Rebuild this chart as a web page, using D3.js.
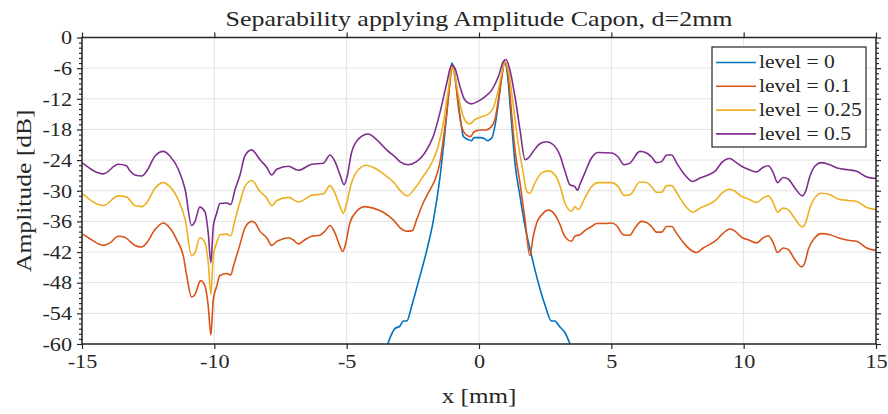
<!DOCTYPE html>
<html>
<head>
  <meta charset="utf-8">
  <title>Separability</title>
  <style>
   html, body { margin: 0; padding: 0; background: #fff; }
   text { font-family: "Liberation Serif", "Times New Roman", serif; fill: #262626; }
   .grid line { stroke: #e2e2e2; stroke-width: 1px; }
   .series { fill: none; stroke-width: 1.6px; stroke-linejoin: round; }
  </style>
</head>
<body>
<div id="chart"></div>
<script src="https://d3js.org/d3.v7.min.js"></script>
<script>
// x ticks and y ticks
var xTicks = [-15, -10, -5, 0, 5, 10, 15];
var yTicks = [0, -6, -12, -18, -24, -30, -36, -42, -48, -54, -60];
var legendLabels = ["level = 0", "level = 0.1", "level = 0.25", "level = 0.5"];
var colors = ["#0072BD", "#D95319", "#EDB120", "#7E2F8E"];

// level = 0
var lvl0X = [-3.45,-3.18,-2.99,-2.86,-2.73,-2.54,-2.29,-1.98,-1.73,-1.48,-1.29,-1.12,-1.03,-0.95,-0.81,-0.68,-0.59,-0.40,-0.28,-0.19,0.04,0.22,0.30,0.48,0.60,0.73,0.86,0.97,1.07,1.20,1.36,1.55,1.74,1.99,2.24,2.49,2.74,2.87,3.03,3.25,3.44];
var lvl0Y = [-60,-57.0,-56.5,-55.5,-55.5,-52.5,-47.8,-41.8,-36.0,-27.6,-18.7,-9.6,-5.0,-6.0,-11.6,-16.8,-19.4,-20.0,-20.2,-19.6,-19.6,-19.8,-20.2,-19.7,-17.4,-12.9,-7.7,-4.7,-7.0,-14.8,-24.6,-31.1,-37.0,-42.8,-48.0,-52.3,-55.5,-55.5,-56.5,-57.8,-60];

// level = 0.1
var lvl1X = [-14.97,-14.70,-14.19,-13.94,-13.63,-13.38,-13.19,-13.0,-12.74,-12.56,-12.24,-11.93,-11.68,-11.42,-11.17,-11.04,-10.86,-10.73,-10.52,-10.35,-10.23,-10.13,-10.04,-9.91,-9.79,-9.53,-9.38,-9.28,-9.03,-8.84,-8.59,-8.46,-8.28,-8.02,-7.83,-7.64,-7.39,-7.20,-7.02,-6.83,-6.58,-6.32,-6.01,-5.82,-5.63,-5.44,-5.25,-5.15,-5.03,-4.88,-4.62,-4.31,-4.0,-3.62,-3.24,-2.99,-2.73,-2.52,-2.36,-2.11,-1.85,-1.66,-1.48,-1.35,-1.22,-1.10,-1.01,-0.91,-0.78,-0.66,-0.47,-0.32,-0.19,0.04,0.26,0.42,0.60,0.73,0.86,0.98,1.11,1.23,1.36,1.55,1.74,1.92,2.05,2.18,2.37,2.62,2.87,3.06,3.18,3.31,3.50,3.62,3.81,4.0,4.25,4.44,4.76,5.01,5.20,5.45,5.70,5.89,6.14,6.33,6.52,6.71,6.90,7.09,7.28,7.46,7.78,8.03,8.22,8.47,8.72,8.98,9.17,9.48,9.67,9.92,10.17,10.49,10.74,10.93,11.12,11.28,11.49,11.68,11.94,12.19,12.31,12.44,12.69,12.94,13.26,13.57,13.95,14.27,14.65,15.0];
var lvl1Y = [-38.5,-39.4,-40.7,-40.2,-38.9,-39.1,-39.9,-40.7,-41.0,-40.2,-37.6,-36.3,-37.3,-39.6,-42.8,-46.7,-50.8,-50.3,-47.6,-48.7,-52.6,-58.2,-51.3,-48.7,-46.6,-46.2,-46.5,-44.8,-40.5,-37.2,-36.0,-36.3,-37.9,-39.2,-40.7,-39.9,-39.4,-39.2,-39.6,-40.4,-39.6,-38.9,-38.7,-37.9,-36.8,-38.3,-40.9,-41.9,-40.2,-36.3,-34.0,-33.1,-33.4,-34.2,-35.7,-37.2,-37.9,-37.8,-35.7,-32.4,-29.8,-27.8,-24.6,-20.0,-14.8,-9.0,-5.7,-7.7,-13.5,-17.4,-19.1,-19.4,-18.5,-18.1,-18.1,-17.7,-16.1,-12.2,-7.7,-4.7,-7.7,-14.8,-22.0,-28.5,-35.7,-42.7,-38.9,-36.3,-34.7,-33.8,-34.7,-36.6,-38.3,-39.4,-39.9,-38.9,-38.6,-37.8,-37.0,-36.4,-36.4,-36.3,-36.8,-38.6,-38.7,-37.3,-36.0,-36.2,-37.0,-38.1,-38.1,-37.0,-37.0,-38.3,-40.5,-41.7,-42.1,-41.2,-40.5,-39.6,-38.6,-37.5,-37.9,-39.1,-39.6,-40.2,-39.2,-38.8,-40.2,-42.1,-41.2,-41.5,-43.5,-44.9,-44.1,-41.5,-39.2,-38.4,-38.6,-39.2,-39.7,-39.9,-41.2,-41.7];

// level = 0.25
var lvl2X = [-14.97,-14.19,-13.63,-13.32,-13.0,-12.74,-12.56,-12.24,-11.93,-11.68,-11.36,-11.1,-10.86,-10.73,-10.55,-10.35,-10.23,-10.13,-10.04,-9.91,-9.79,-9.53,-9.38,-9.22,-9.03,-8.84,-8.59,-8.28,-8.02,-7.83,-7.64,-7.20,-6.83,-6.32,-5.88,-5.63,-5.44,-5.25,-5.13,-5.0,-4.82,-4.56,-4.24,-3.93,-3.56,-3.18,-2.99,-2.71,-2.42,-2.11,-1.79,-1.54,-1.35,-1.16,-1.01,-0.88,-0.72,-0.54,-0.35,-0.16,0.10,0.32,0.54,0.70,0.86,0.98,1.13,1.30,1.48,1.67,1.80,1.92,2.11,2.37,2.62,2.87,3.06,3.25,3.50,3.62,3.75,4.0,4.25,4.50,5.01,5.26,5.48,5.70,6.08,6.33,6.52,6.71,6.90,7.09,7.28,7.46,7.78,8.09,8.35,8.66,8.95,9.17,9.48,9.67,9.92,10.17,10.49,10.74,10.93,11.12,11.28,11.49,11.68,11.94,12.22,12.34,12.50,12.69,12.94,13.26,13.57,13.95,14.27,14.65,15.0];
var lvl2Y = [-30.6,-32.9,-31.0,-31.2,-32.9,-33.1,-32.4,-29.5,-28.4,-29.2,-31.8,-35.7,-42.7,-42.1,-39.2,-40.2,-44.1,-50.3,-42.8,-40.2,-38.6,-38.5,-38.8,-35.7,-32.2,-29.1,-28.0,-30.1,-31.4,-32.9,-31.9,-31.3,-32.2,-30.9,-30.6,-29.0,-30.5,-33.1,-34.4,-32.4,-28.5,-25.9,-25.0,-25.6,-26.9,-28.6,-29.9,-31.0,-29.5,-27.2,-24.6,-21.3,-16.8,-10.3,-5.6,-8.3,-12.9,-16.1,-16.9,-16.1,-15.5,-15.1,-13.8,-10.9,-7.0,-4.7,-7.0,-13.5,-20.7,-26.5,-30.1,-30.5,-28.5,-26.5,-26.1,-26.9,-29.0,-32.5,-34.0,-33.1,-33.7,-31.4,-29.2,-28.4,-28.4,-29.2,-30.9,-30.8,-28.3,-28.4,-29.2,-30.3,-30.3,-29.0,-29.0,-30.3,-32.9,-34.2,-33.4,-32.7,-31.8,-30.5,-29.7,-30.1,-31.1,-31.6,-32.3,-31.4,-31.0,-32.4,-34.2,-33.4,-33.7,-35.5,-37.1,-36.3,-33.4,-31.4,-30.5,-30.8,-31.6,-31.9,-32.1,-33.3,-33.7];

// level = 0.5
var lvl3X = [-14.97,-14.19,-13.63,-13.32,-13.19,-13.0,-12.74,-12.56,-12.24,-11.93,-11.68,-11.36,-11.1,-10.86,-10.73,-10.55,-10.35,-10.23,-10.13,-10.04,-9.91,-9.79,-9.53,-9.38,-9.22,-9.03,-8.84,-8.59,-8.28,-8.02,-7.83,-7.64,-7.20,-6.83,-6.32,-5.88,-5.63,-5.44,-5.25,-5.10,-4.98,-4.82,-4.56,-4.18,-3.87,-3.49,-3.12,-2.99,-2.68,-2.36,-2.05,-1.73,-1.48,-1.22,-1.04,-0.91,-0.72,-0.54,-0.29,-0.04,0.22,0.48,0.73,0.92,1.02,1.17,1.36,1.55,1.74,1.86,2.05,2.30,2.55,2.81,3.06,3.25,3.43,3.62,3.72,3.81,4.0,4.25,4.50,5.01,5.26,5.48,5.70,6.08,6.33,6.52,6.71,6.90,7.09,7.28,7.46,7.78,8.07,8.35,8.66,8.95,9.17,9.48,9.67,9.92,10.17,10.49,10.74,10.93,11.12,11.28,11.49,11.68,11.94,12.22,12.34,12.50,12.69,12.94,13.26,13.57,13.95,14.27,14.65,15.0];
var lvl3Y = [-24.6,-26.7,-24.8,-25.1,-26.1,-26.9,-27.1,-26.2,-23.2,-22.3,-23.2,-25.8,-29.8,-36.8,-36.0,-33.2,-34.2,-38.3,-44.1,-37.0,-34.4,-32.5,-32.4,-32.7,-29.8,-26.9,-23.1,-22.0,-23.9,-25.4,-26.9,-25.8,-25.2,-26.0,-24.8,-24.6,-23.0,-24.3,-26.9,-28.8,-27.2,-22.6,-19.9,-18.9,-20.0,-22.0,-23.6,-24.3,-24.9,-24.3,-22.6,-19.4,-14.8,-9.0,-5.4,-6.0,-9.6,-12.2,-13.0,-12.5,-11.6,-10.3,-7.7,-4.7,-4.3,-6.4,-11.6,-18.1,-23.9,-23.6,-22.3,-20.8,-20.4,-21.0,-23.1,-26.2,-28.8,-29.2,-29.9,-28.8,-26.5,-23.6,-22.5,-22.6,-23.4,-24.9,-24.6,-22.3,-22.6,-23.4,-24.5,-24.3,-23.0,-23.0,-24.5,-26.9,-28.2,-27.5,-26.9,-26.0,-24.5,-23.7,-24.3,-25.2,-25.8,-26.3,-25.4,-25.1,-26.5,-28.4,-27.4,-27.7,-29.5,-31.0,-30.1,-27.2,-25.2,-24.5,-24.9,-25.6,-25.9,-26.2,-27.3,-27.6];

var seriesX = [lvl0X, lvl1X, lvl2X, lvl3X];
var seriesY = [lvl0Y, lvl1Y, lvl2Y, lvl3Y];

var width = 888, height = 414;
var margin = {left: 82, right: 12, top: 37.5, bottom: 70};

var svg = d3.select("#chart").append("svg")
  .attr("width", width)
  .attr("height", height);

var x = d3.scaleLinear().domain([-15, 15]).range([margin.left, width - margin.right]);
var y = d3.scaleLinear().domain([-60, 0]).range([height - margin.bottom, margin.top]);

// the original uses a wide LaTeX font, stretch the serif text a bit to match
function widen(sel, factor) {
  sel.each(function() {
    var len = this.getComputedTextLength();
    d3.select(this).attr("textLength", len * factor).attr("lengthAdjust", "spacingAndGlyphs");
  });
}

// grid
var grid = svg.append("g").attr("class", "grid");
grid.selectAll(".gx").data(xTicks).enter().append("line")
  .attr("x1", function(d) { return x(d); }).attr("x2", function(d) { return x(d); })
  .attr("y1", y(0)).attr("y2", y(-60));
grid.selectAll(".gy").data(yTicks).enter().append("line")
  .attr("x1", x(-15)).attr("x2", x(15))
  .attr("y1", function(d) { return y(d); }).attr("y2", function(d) { return y(d); });

// lines
svg.append("clipPath").attr("id", "clip").append("rect")
  .attr("x", x(-15)).attr("y", y(0)).attr("width", x(15) - x(-15)).attr("height", y(-60) - y(0));

var line = d3.line()
  .x(function(d) { return x(d[0]); })
  .y(function(d) { return y(d[1]); })
  .curve(d3.curveMonotoneX);

var plot = svg.append("g").attr("clip-path", "url(#clip)");
seriesX.forEach(function(xs, i) {
  var pts = xs.map(function(v, j) { return [v, seriesY[i][j]]; });
  plot.append("path")
    .attr("class", "series")
    .attr("stroke", colors[i])
    .attr("d", line(pts));
});

// axes
var minorY = d3.range(-60, 1, 1).filter(function(v) { return v % 6 !== 0; });
var fmt = function(d) { return d < 0 ? "-" + Math.abs(d) : d; };

function styleAxis(g) {
  g.select(".domain").remove();
  g.selectAll("line").attr("stroke", "#262626").attr("stroke-width", 1.2);
  g.selectAll("text").style("font-family", "'Liberation Serif', serif").attr("fill", "#262626").attr("font-size", "19.5px");
}

svg.append("g")
  .attr("transform", "translate(0," + y(-60) + ")")
  .call(d3.axisBottom(x).tickValues(xTicks).tickSize(5).tickPadding(5).tickFormat(fmt))
  .call(styleAxis)
  .selectAll("text").call(widen, 1.14);

svg.append("g")
  .attr("transform", "translate(0," + y(0) + ")")
  .call(d3.axisTop(x).tickValues(xTicks).tickSize(5).tickFormat(""))
  .call(styleAxis);

svg.append("g")
  .attr("transform", "translate(" + x(-15) + ",0)")
  .call(d3.axisLeft(y).tickValues(yTicks).tickSize(5).tickPadding(5).tickFormat(fmt))
  .call(styleAxis)
  .selectAll("text").call(widen, 1.14);

svg.append("g")
  .attr("transform", "translate(" + x(-15) + ",0)")
  .call(d3.axisLeft(y).tickValues(minorY).tickSize(3).tickFormat(""))
  .call(styleAxis);

svg.append("g")
  .attr("transform", "translate(" + x(15) + ",0)")
  .call(d3.axisRight(y).tickValues(yTicks).tickSize(5).tickFormat(""))
  .call(styleAxis);

svg.append("g")
  .attr("transform", "translate(" + x(15) + ",0)")
  .call(d3.axisRight(y).tickValues(minorY).tickSize(3).tickFormat(""))
  .call(styleAxis);

// box
svg.append("rect")
  .attr("x", x(-15)).attr("y", y(0))
  .attr("width", x(15) - x(-15)).attr("height", y(-60) - y(0))
  .attr("fill", "none").attr("stroke", "#262626").attr("stroke-width", 1.5);

// title and labels
svg.append("text")
  .attr("x", (x(-15) + x(15)) / 2).attr("y", 26)
  .attr("text-anchor", "middle").attr("font-size", "22px")
  .text("Separability applying Amplitude Capon, d=2mm")
  .call(widen, 1.18);

svg.append("text")
  .attr("x", (x(-15) + x(15)) / 2).attr("y", 403)
  .attr("text-anchor", "middle").attr("font-size", "22px")
  .text("x [mm]")
  .call(widen, 1.14);

svg.append("text")
  .attr("transform", "translate(31," + ((y(0) + y(-60)) / 2) + ") rotate(-90)")
  .attr("text-anchor", "middle").attr("font-size", "22px")
  .text("Amplitude [dB]")
  .call(widen, 1.16);

// legend
var leg = svg.append("g").attr("transform", "translate(712,47)");
leg.append("rect")
  .attr("width", 154).attr("height", 100)
  .attr("fill", "#fff").attr("stroke", "#262626").attr("stroke-width", 1.2);

legendLabels.forEach(function(lab, i) {
  var ry = 15.5 + i * 23.8;
  leg.append("line")
    .attr("x1", 4).attr("x2", 44).attr("y1", ry).attr("y2", ry)
    .attr("stroke", colors[i]).attr("stroke-width", 1.6);
  leg.append("text")
    .attr("x", 47).attr("y", ry).attr("dy", "0.33em")
    .attr("font-size", "18px")
    .text(lab)
    .call(widen, 1.2);
});
</script>
</body>
</html>
